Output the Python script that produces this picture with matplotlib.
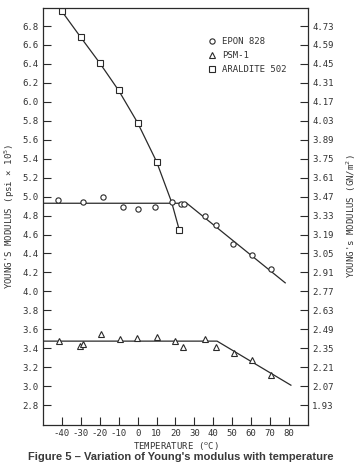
"""Young's modulus vs temperature for three photoelastic materials."""

import matplotlib

matplotlib.use("Agg")
import matplotlib.pyplot as plt
import numpy as np

# measured points
epon_temp = [-42, -29, -18.5, -7.5, 0, 9, 18, 23, 24.5, 35.5, 41.5, 50.5, 60.5, 70.5]
epon_mod = [4.965, 4.945, 5.0, 4.89, 4.865, 4.89, 4.94, 4.92, 4.92, 4.80, 4.70, 4.50, 4.38, 4.235]

psm_temp = [-41.5, -30.5, -29, -19.5, -9.5, -0.5, 10.5, 20, 24, 35.5, 41.5, 51, 60.5, 70.5]
psm_mod = [3.475, 3.42, 3.445, 3.55, 3.495, 3.51, 3.52, 3.475, 3.41, 3.50, 3.415, 3.35, 3.275, 3.12]

araldite_temp = [-40, -30, -20, -10, 0, 10, 22]
araldite_mod = [6.955, 6.68, 6.41, 6.12, 5.78, 5.37, 4.65]

# fitted lines drawn on the original
epon_fit_temp = [-50, 26, 78]
epon_fit_mod = [4.93, 4.93, 4.09]
psm_fit_temp = [-50, 42, 81]
psm_fit_mod = [3.475, 3.475, 3.01]
araldite_fit_temp = [-40, -30, -20, -10, 0, 10, 18, 22]
araldite_fit_mod = [6.955, 6.68, 6.41, 6.12, 5.78, 5.37, 4.94, 4.65]

x_ticks = list(range(-40, 81, 10))
left_ticks = [round(2.8 + 0.2 * i, 1) for i in range(21)]
right_ticks = [round(1.93 + 0.14 * i, 2) for i in range(21)]

MONO = "DejaVu Sans Mono"


def to_gn(psi):
    return 1.93 + (np.asarray(psi) - 2.8) * 0.7


fig = plt.figure(figsize=(3.61, 4.73), dpi=100)
ax = fig.add_axes([0.119, 0.1015, 0.734, 0.8815])

line_kw = dict(color="#2a2a2a", linewidth=0.9)
mark_kw = dict(linestyle="none", markerfacecolor="white", markeredgecolor="#2a2a2a",
               markeredgewidth=0.8, markersize=3.8)

ax.plot(epon_fit_temp, epon_fit_mod, **line_kw)
ax.plot(psm_fit_temp, psm_fit_mod, **line_kw)
ax.plot(araldite_fit_temp, araldite_fit_mod, **line_kw)

ax.plot(epon_temp, epon_mod, marker="o", label="EPON 828", **mark_kw)
ax.plot(psm_temp, psm_mod, marker="^", label="PSM-1", **mark_kw)
ax.plot(araldite_temp, araldite_mod, marker="s", label="ARALDITE 502", **mark_kw)

ax.set_xlim(-50, 90)
ax.set_ylim(2.59, 6.99)
ax.set_xticks(x_ticks)
ax.set_xticklabels([str(t) for t in x_ticks], fontsize=6.5, family=MONO)
ax.set_yticks(left_ticks)
ax.set_yticklabels([f"{t:.1f}" for t in left_ticks], fontsize=6.5, family=MONO)
ax.tick_params(direction="in", length=5.5, width=0.8, pad=3, color="#2a2a2a", labelcolor="#333333")
for spine in ax.spines.values():
    spine.set_linewidth(0.9)
    spine.set_color("#2a2a2a")

ax2 = ax.twinx()
ax2.set_ylim(*to_gn(ax.get_ylim()))
ax2.set_yticks(right_ticks)
ax2.set_yticklabels([f"{t:.2f}" for t in right_ticks], fontsize=6.5, family=MONO)
ax2.tick_params(direction="in", length=5.5, width=0.8, pad=3, color="#2a2a2a", labelcolor="#333333")
for spine in ax2.spines.values():
    spine.set_visible(False)

ax.set_xlabel("TEMPERATURE ($^{\\mathrm{o}}$C)", fontsize=6.5, family=MONO, labelpad=1, color="#333333")
ax.set_ylabel("YOUNG'S MODULUS (psi \u00d7 10$^{5}$)", fontsize=6.5, family=MONO, labelpad=4, color="#333333")
ax2.set_ylabel("YOUNG's MODULUS (GN/m$^{2}$)", fontsize=6.5, family=MONO, labelpad=8,
               rotation=90, color="#333333")

ax.legend(loc="upper left", bbox_to_anchor=(0.59, 0.95), frameon=False, handlelength=1.0,
          handletextpad=0.6, labelspacing=0.55, prop={"family": MONO, "size": 6.5},
          labelcolor="#333333")

fig.text(0.5, 0.033, "Figure 5 \u2013 Variation of Young's modulus with temperature",
         ha="center", va="center", fontsize=8.0, fontweight="bold",
         family="Liberation Sans", color="#3a3a3a")

fig.savefig("out.png", dpi=100)
plt.close(fig)
